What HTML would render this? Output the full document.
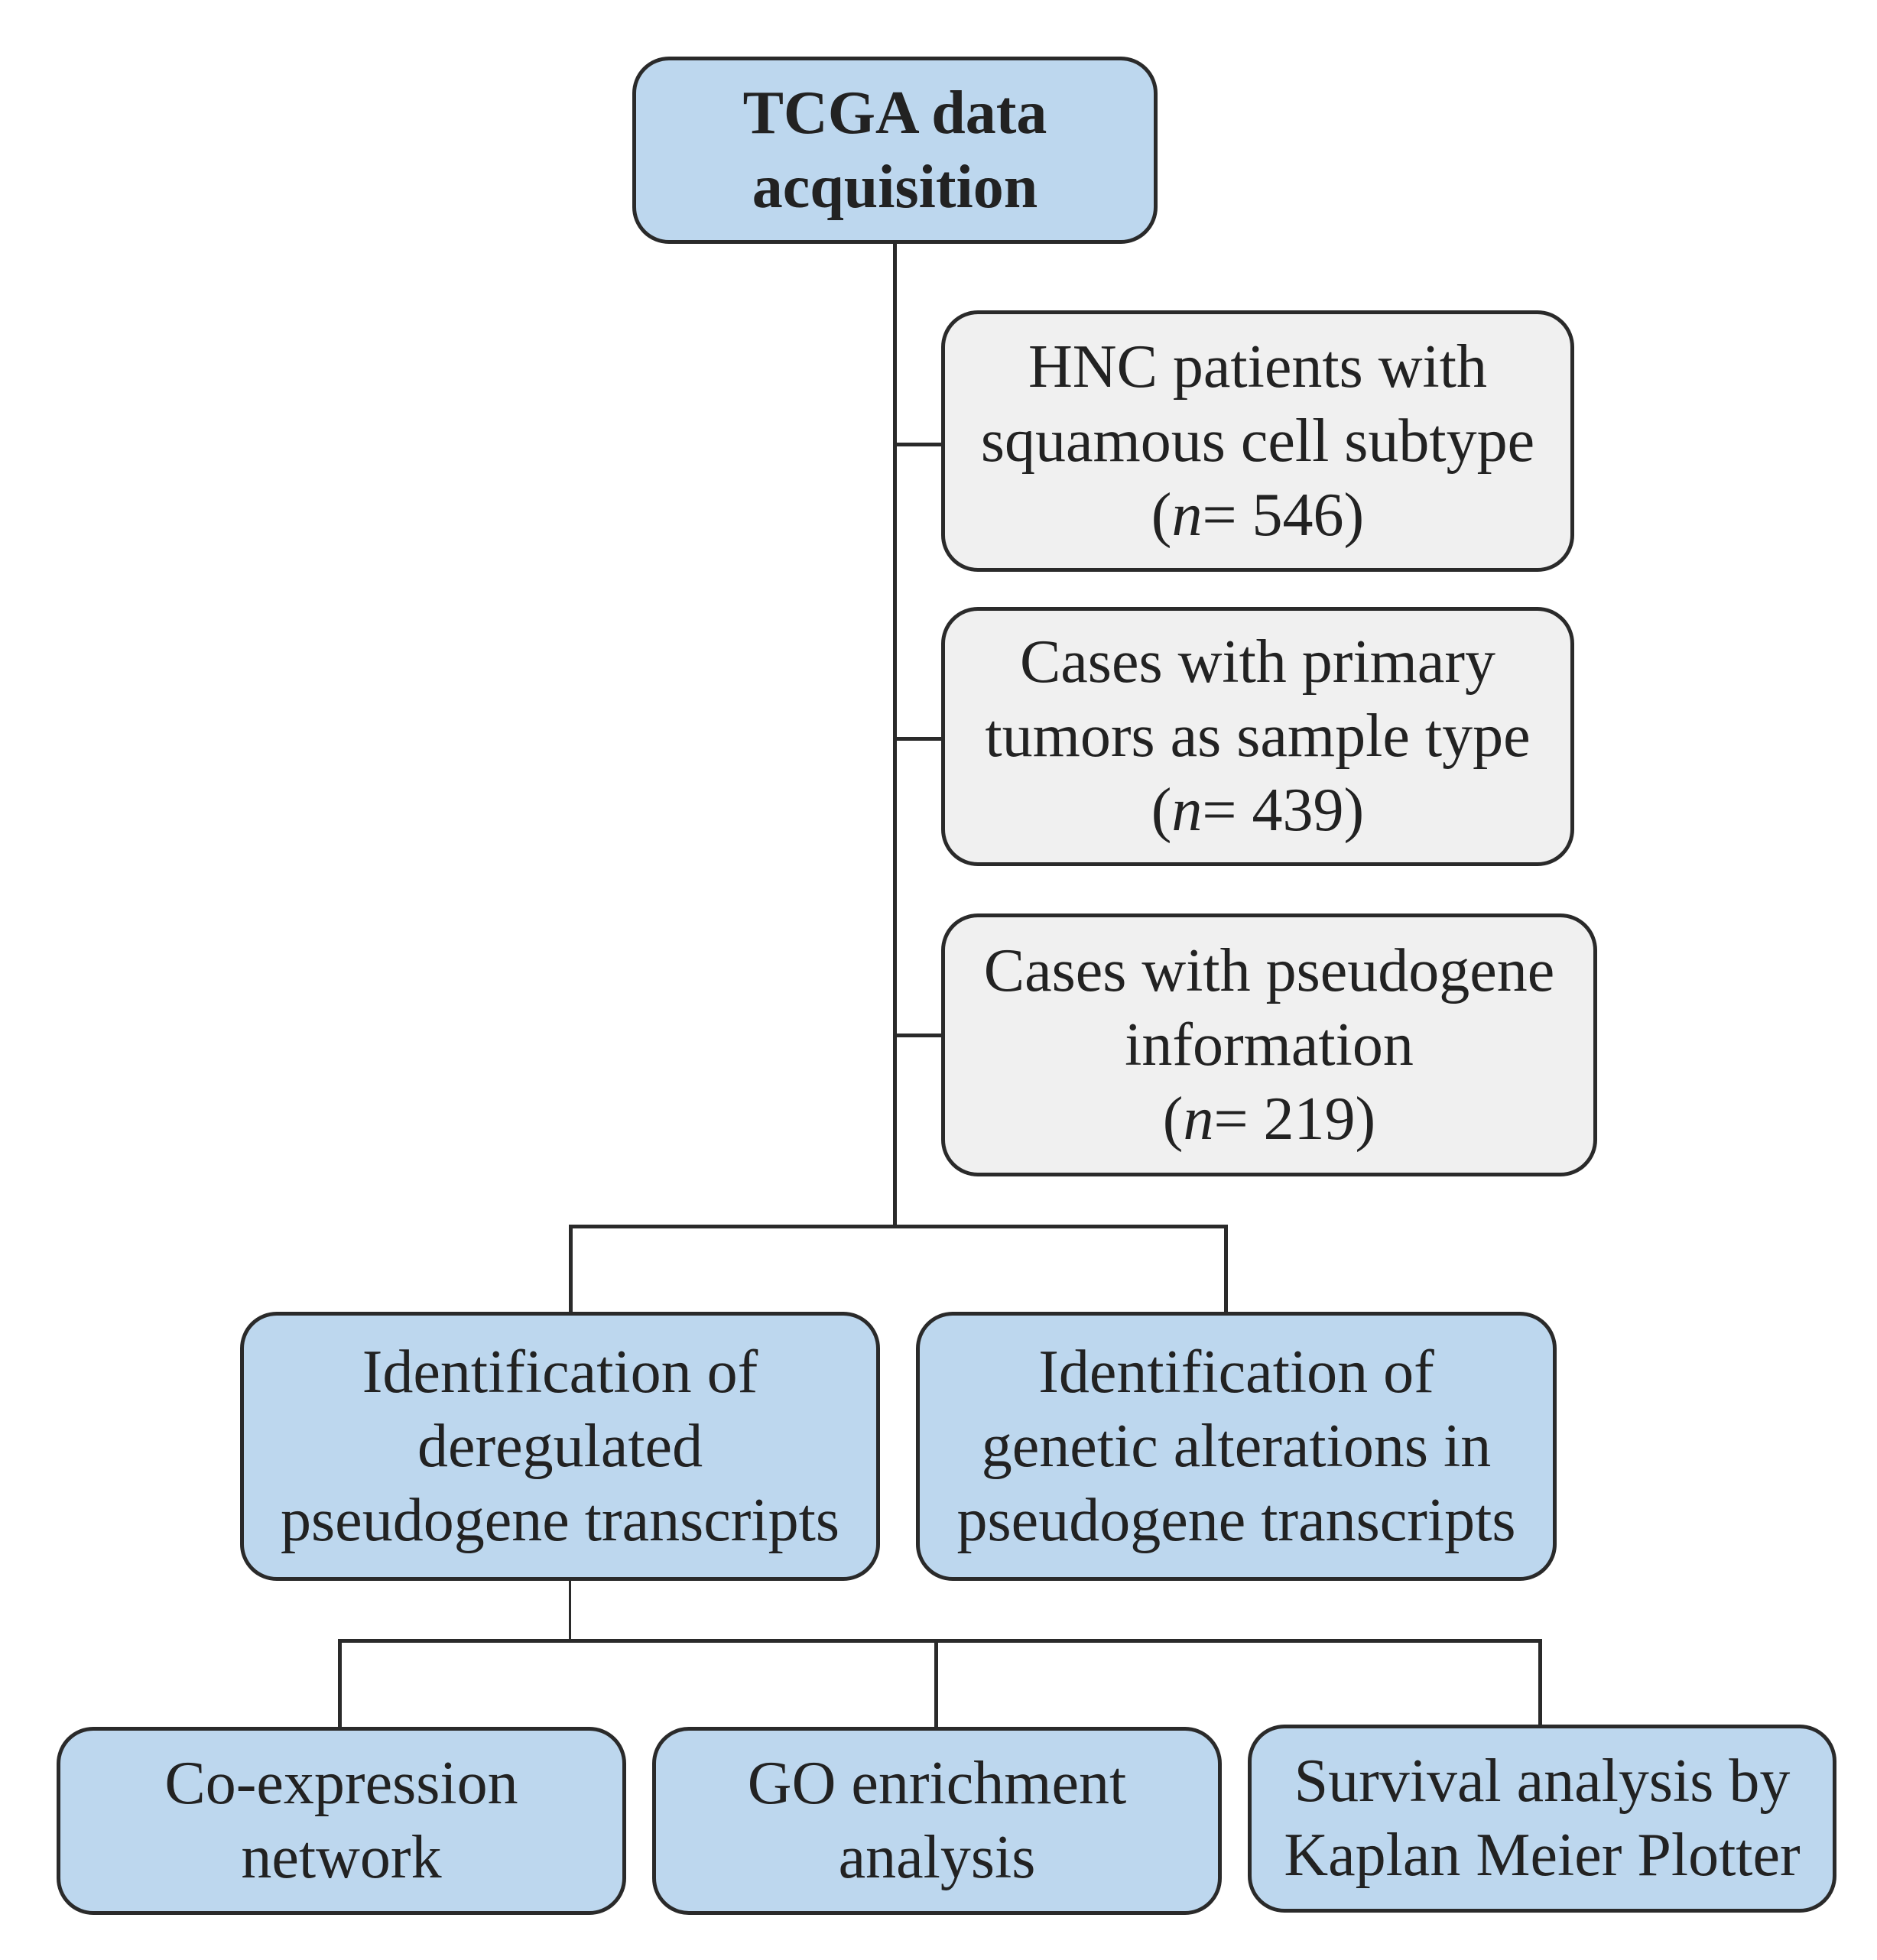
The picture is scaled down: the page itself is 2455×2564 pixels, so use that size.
<!DOCTYPE html>
<html><head><style>
body{margin:0;background:#fff;}
.c{position:relative;width:2455px;height:2564px;overflow:hidden;}
.b{position:absolute;box-sizing:border-box;border:5px solid #2a2a2a;border-radius:48px;display:flex;align-items:center;justify-content:center;text-align:center;font-family:"Liberation Serif",serif;font-size:80px;line-height:97px;color:#222;white-space:nowrap;}
.b>div{text-align:center;}
.bl{background:#bdd7ee;}
.gr{background:#f0f0f0;}
.l{position:absolute;background:#2a2a2a;}
</style></head><body><div class="c">
<div class="l" style="left:1168px;top:319px;width:5px;height:1287px"></div>
<div class="l" style="left:1168px;top:579px;width:65px;height:5px"></div>
<div class="l" style="left:1168px;top:964px;width:65px;height:5px"></div>
<div class="l" style="left:1168px;top:1352px;width:65px;height:5px"></div>
<div class="l" style="left:744px;top:1602px;width:862px;height:5px"></div>
<div class="l" style="left:744px;top:1602px;width:5px;height:116px"></div>
<div class="l" style="left:1601px;top:1602px;width:5px;height:116px"></div>
<div class="l" style="left:744px;top:2066px;width:3px;height:80px"></div>
<div class="l" style="left:442px;top:2144px;width:1575px;height:5px"></div>
<div class="l" style="left:442px;top:2144px;width:5px;height:117px"></div>
<div class="l" style="left:1222px;top:2144px;width:5px;height:117px"></div>
<div class="l" style="left:2012px;top:2144px;width:5px;height:117px"></div>

<div class="b bl" style="left:827px;top:74px;width:687px;height:245px;font-weight:bold;"><div>TCGA data<br>acquisition</div></div>
<div class="b gr" style="left:1231px;top:406px;width:828px;height:342px;"><div>HNC patients with<br>squamous cell subtype<br>(<i>n</i>= 546)</div></div>
<div class="b gr" style="left:1231px;top:794px;width:828px;height:339px;"><div>Cases with primary<br>tumors as sample type<br>(<i>n</i>= 439)</div></div>
<div class="b gr" style="left:1231px;top:1195px;width:858px;height:344px;"><div>Cases with pseudogene<br>information<br>(<i>n</i>= 219)</div></div>
<div class="b bl" style="left:314px;top:1716px;width:837px;height:352px;"><div>Identification of<br>deregulated<br>pseudogene transcripts</div></div>
<div class="b bl" style="left:1198px;top:1716px;width:838px;height:352px;"><div>Identification of<br>genetic alterations in<br>pseudogene transcripts</div></div>
<div class="b bl" style="left:74px;top:2259px;width:745px;height:246px;"><div>Co-expression<br>network</div></div>
<div class="b bl" style="left:853px;top:2259px;width:745px;height:246px;"><div>GO enrichment<br>analysis</div></div>
<div class="b bl" style="left:1632px;top:2256px;width:770px;height:246px;"><div>Survival analysis by<br>Kaplan Meier Plotter</div></div>
</div></body></html>
